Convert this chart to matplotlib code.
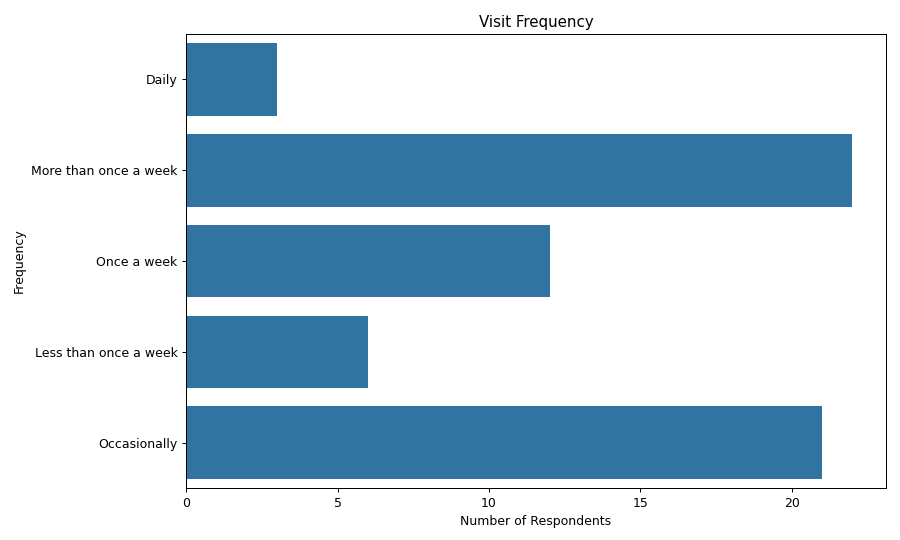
import matplotlib
matplotlib.use("Agg")
import matplotlib.pyplot as plt
import seaborn as sns
import pandas as pd

frequencies = ["Daily", "More than once a week", "Once a week",
               "Less than once a week", "Occasionally"]
respondents = [3, 22, 12, 6, 21]

df = pd.DataFrame({"Frequency": frequencies, "Number of Respondents": respondents})

fig, ax = plt.subplots(figsize=(10, 6), dpi=90)
sns.barplot(data=df, y="Frequency", x="Number of Respondents", ax=ax)
ax.set_title("Visit Frequency")
ax.set_xlabel("Number of Respondents")
ax.set_ylabel("Frequency")
fig.subplots_adjust(left=0.207, right=0.984, top=0.937, bottom=0.096)
fig.savefig("out.png", dpi=90)
